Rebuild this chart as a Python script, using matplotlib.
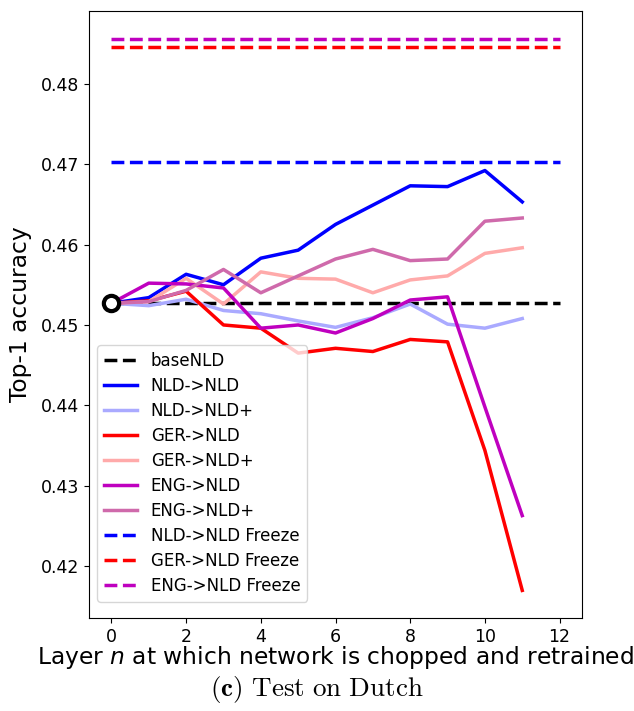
import matplotlib
matplotlib.use("Agg")
import matplotlib.pyplot as plt
import numpy as np

layers = list(range(12))
base_nld = 0.4527
nld_nld = [0.4527, 0.4534, 0.4563, 0.4550, 0.4583, 0.4593, 0.4625, 0.4649, 0.4673, 0.4672, 0.4692, 0.4653]
nld_nld_plus = [0.4527, 0.4524, 0.4532, 0.4518, 0.4514, 0.4505, 0.4497, 0.4509, 0.4526, 0.4501, 0.4496, 0.4508]
ger_nld = [0.4527, 0.4530, 0.4542, 0.4500, 0.4496, 0.4465, 0.4471, 0.4467, 0.4482, 0.4479, 0.4344, 0.4170]
ger_nld_plus = [0.4527, 0.4529, 0.4558, 0.4526, 0.4566, 0.4558, 0.4557, 0.4540, 0.4556, 0.4561, 0.4589, 0.4596]
eng_nld = [0.4527, 0.4552, 0.4551, 0.4546, 0.4496, 0.4500, 0.4490, 0.4508, 0.4531, 0.4535, 0.4398, 0.4263]
eng_nld_plus = [0.4527, 0.4529, 0.4543, 0.4569, 0.4540, 0.4561, 0.4582, 0.4594, 0.4580, 0.4582, 0.4629, 0.4633]
freeze_x = [0, 12]
nld_freeze = 0.4703
ger_freeze = 0.4846
eng_freeze = 0.4856

fig = plt.figure(figsize=(6.34, 7.11), dpi=100)
ax = fig.add_axes([0.1404, 0.1308, 0.918 - 0.1404, 0.9845 - 0.1308])

lw = 2.5
ax.plot(freeze_x, [base_nld] * 2, '--', color='black', lw=lw, label='baseNLD')
ax.plot(layers, nld_nld, color='#0000ff', lw=lw, label='NLD->NLD')
ax.plot(layers, nld_nld_plus, color='#aaaaff', lw=lw, label='NLD->NLD+')
ax.plot(layers, ger_nld, color='#ff0000', lw=lw, label='GER->NLD')
ax.plot(layers, ger_nld_plus, color='#ffaaaa', lw=lw, label='GER->NLD+')
ax.plot(layers, eng_nld, color='#bf00bf', lw=lw, label='ENG->NLD')
ax.plot(layers, eng_nld_plus, color='#cf6aab', lw=lw, label='ENG->NLD+')
ax.plot(freeze_x, [nld_freeze] * 2, '--', color='#0000ff', lw=lw, label='NLD->NLD Freeze')
ax.plot(freeze_x, [ger_freeze] * 2, '--', color='#ff0000', lw=lw, label='GER->NLD Freeze')
ax.plot(freeze_x, [eng_freeze] * 2, '--', color='#bf00bf', lw=lw, label='ENG->NLD Freeze')
ax.plot([0], [base_nld], 'o', markersize=11, markerfacecolor='white',
        markeredgecolor='black', markeredgewidth=3, zorder=5)

ax.set_xticks([0, 2, 4, 6, 8, 10, 12])
ax.set_yticks([0.42, 0.43, 0.44, 0.45, 0.46, 0.47, 0.48])
ax.tick_params(labelsize=12.5)
ax.set_xlabel('Layer $n$ at which network is chopped and retrained', fontsize=16.8,
              labelpad=-1, math_fontfamily='dejavusans')
ax.set_ylabel('Top-1 accuracy', fontsize=16.8, labelpad=6)
ax.legend(loc='lower left', fontsize=12, handlelength=2, labelspacing=0.42,
          bbox_to_anchor=(0.0, 0.0132))

fig.text(0.5, 0.030, r'$\mathbf{(c)}$ $\mathrm{Test\ on\ Dutch}$', ha='center', va='center',
         fontsize=19.5, math_fontfamily='cm')

fig.savefig('out.png', dpi=100)
